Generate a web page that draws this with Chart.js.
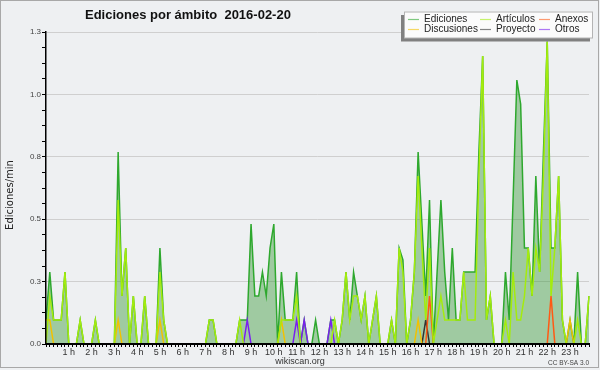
<!DOCTYPE html>
<html>
<head>
<meta charset="utf-8">
<script src="https://cdn.jsdelivr.net/npm/chart.js@4"></script>
<style>
  html, body { margin: 0; padding: 0; background: #eef0f2; }
  canvas { display: block; }
</style>
</head>
<body>
<canvas id="ambito_chart" width="600" height="370"></canvas>
<script>
// Ediciones por minuto, franjas de 10 minutos (144 por dia)
const ediciones = [
  0.1, 0.3, 0.1, 0.1, 0.1, 0.3, 0, 0, 0, 0.1, 0, 0,
  0, 0.1, 0, 0, 0, 0, 0, 0.8, 0.2, 0.4, 0, 0.2,
  0, 0, 0.2, 0, 0, 0, 0.4, 0.1, 0, 0, 0, 0,
  0, 0, 0, 0, 0, 0, 0, 0.1, 0.1, 0, 0, 0,
  0, 0, 0, 0.1, 0.1, 0.1, 0.5, 0.2, 0.2, 0.3, 0.2, 0.4,
  0.5, 0, 0.3, 0.1, 0.1, 0.1, 0.3, 0, 0.1, 0, 0, 0.1,
  0, 0, 0, 0.1, 0.1, 0, 0.1, 0.3, 0.1, 0.3, 0.2, 0.1,
  0.2, 0, 0.1, 0.2, 0, 0, 0, 0.1, 0, 0.4, 0.35, 0,
  0.1, 0.3, 0.8, 0.5, 0.2, 0.6, 0, 0.3, 0.6, 0.3, 0.1, 0.4,
  0.1, 0.1, 0.3, 0.3, 0.3, 0.3, 0.8, 1.2, 0.1, 0.2, 0, 0,
  0, 0.3, 0.1, 0.6, 1.1, 1.0, 0.4, 0.4, 0.2, 0.7, 0.3, 0.8,
  1.26, 0.4, 0.4, 0.7, 0.1, 0, 0.1, 0, 0.3, 0, 0, 0.2
];
const articulos = [
  0, 0.2, 0.1, 0.1, 0.1, 0.3, 0, 0, 0, 0.1, 0, 0,
  0, 0.1, 0, 0, 0, 0, 0, 0.6, 0.2, 0.4, 0, 0.2,
  0, 0, 0.2, 0, 0, 0, 0.3, 0.1, 0, 0, 0, 0,
  0, 0, 0, 0, 0, 0, 0, 0.1, 0.1, 0, 0, 0,
  0, 0, 0, 0.1, 0, 0, 0, 0, 0, 0, 0, 0,
  0, 0, 0.1, 0.1, 0.1, 0.1, 0.2, 0, 0, 0, 0, 0,
  0, 0, 0, 0, 0.1, 0, 0.1, 0.3, 0.1, 0.2, 0.2, 0.1,
  0.2, 0, 0.1, 0.2, 0, 0, 0, 0.1, 0, 0.4, 0.3, 0,
  0.1, 0.3, 0.7, 0.4, 0.1, 0.4, 0, 0.1, 0.2, 0.1, 0.1, 0.1,
  0.1, 0.1, 0.3, 0.1, 0.1, 0.1, 0.7, 1.2, 0.1, 0.2, 0, 0,
  0, 0.1, 0, 0.3, 0.1, 0.1, 0.2, 0.4, 0.2, 0.4, 0.3, 0.7,
  1.26, 0.2, 0.4, 0.7, 0.1, 0, 0, 0, 0.1, 0, 0, 0.2
];
const anexos = [
  0, 0, 0, 0, 0, 0, 0, 0, 0, 0, 0, 0,
  0, 0, 0, 0, 0, 0, 0, 0, 0, 0, 0, 0,
  0, 0, 0, 0, 0, 0, 0, 0, 0, 0, 0, 0,
  0, 0, 0, 0, 0, 0, 0, 0, 0, 0, 0, 0,
  0, 0, 0, 0, 0, 0, 0, 0, 0, 0, 0, 0,
  0, 0, 0, 0, 0, 0, 0, 0, 0, 0, 0, 0,
  0, 0, 0, 0, 0, 0, 0, 0, 0, 0, 0, 0,
  0, 0, 0, 0, 0, 0, 0, 0, 0, 0, 0, 0,
  0, 0, 0, 0, 0, 0.2, 0, 0, 0, 0, 0, 0,
  0, 0, 0, 0, 0, 0, 0, 0, 0, 0, 0, 0,
  0, 0, 0, 0, 0, 0, 0, 0, 0, 0, 0, 0,
  0, 0.2, 0, 0, 0, 0, 0, 0, 0, 0, 0, 0
];
const discusiones = [
  0.1, 0.1, 0, 0, 0, 0, 0, 0, 0, 0, 0, 0,
  0, 0, 0, 0, 0, 0, 0, 0.1, 0, 0, 0, 0,
  0, 0, 0, 0, 0, 0, 0.1, 0, 0, 0, 0, 0,
  0, 0, 0, 0, 0, 0, 0, 0, 0, 0, 0, 0,
  0, 0, 0, 0, 0, 0, 0, 0, 0, 0, 0, 0,
  0, 0, 0.1, 0, 0, 0, 0, 0, 0, 0, 0, 0,
  0, 0, 0, 0, 0, 0, 0, 0, 0, 0, 0, 0,
  0, 0, 0, 0, 0, 0, 0, 0, 0, 0, 0, 0,
  0, 0, 0.1, 0, 0, 0, 0, 0, 0, 0, 0, 0,
  0, 0, 0, 0, 0, 0, 0, 0, 0, 0, 0, 0,
  0, 0, 0, 0, 0, 0, 0, 0, 0, 0, 0, 0,
  0, 0, 0, 0, 0, 0, 0.1, 0, 0, 0, 0, 0
];
const proyecto = [
  0, 0, 0, 0, 0, 0, 0, 0, 0, 0, 0, 0,
  0, 0, 0, 0, 0, 0, 0, 0, 0, 0, 0, 0,
  0, 0, 0, 0, 0, 0, 0, 0, 0, 0, 0, 0,
  0, 0, 0, 0, 0, 0, 0, 0, 0, 0, 0, 0,
  0, 0, 0, 0, 0, 0, 0, 0, 0, 0, 0, 0,
  0, 0, 0, 0, 0, 0, 0, 0, 0, 0, 0, 0,
  0, 0, 0, 0, 0, 0, 0, 0, 0, 0, 0, 0,
  0, 0, 0, 0, 0, 0, 0, 0, 0, 0, 0, 0,
  0, 0, 0, 0, 0.1, 0, 0, 0, 0, 0, 0, 0,
  0, 0, 0, 0, 0, 0, 0, 0, 0, 0, 0, 0,
  0, 0, 0, 0, 0, 0, 0, 0, 0, 0, 0, 0,
  0, 0, 0, 0, 0, 0, 0, 0, 0, 0, 0, 0
];
const otros = [
  0, 0, 0, 0, 0, 0, 0, 0, 0, 0, 0, 0,
  0, 0, 0, 0, 0, 0, 0, 0, 0, 0, 0, 0,
  0, 0, 0, 0, 0, 0, 0, 0, 0, 0, 0, 0,
  0, 0, 0, 0, 0, 0, 0, 0, 0, 0, 0, 0,
  0, 0, 0, 0, 0, 0.1, 0, 0, 0, 0, 0, 0,
  0, 0, 0, 0, 0, 0, 0.1, 0, 0.1, 0, 0, 0,
  0, 0, 0, 0.1, 0, 0, 0, 0, 0, 0, 0, 0,
  0, 0, 0, 0, 0, 0, 0, 0, 0, 0, 0, 0,
  0, 0, 0, 0, 0, 0, 0, 0, 0, 0, 0, 0,
  0, 0, 0, 0, 0, 0, 0, 0, 0, 0, 0, 0,
  0, 0, 0, 0, 0, 0, 0, 0, 0, 0, 0, 0,
  0, 0, 0, 0, 0, 0, 0, 0, 0, 0, 0, 0
];

const horas = ['1 h', '2 h', '3 h', '4 h', '5 h', '6 h', '7 h', '8 h', '9 h', '10 h', '11 h', '12 h',
  '13 h', '14 h', '15 h', '16 h', '17 h', '18 h', '19 h', '20 h', '21 h', '22 h', '23 h'];
const yMax = 1.3;
const titulo = 'Ediciones por ámbito  2016-02-20';

// etiquetas de las franjas: 00:00, 00:10, ...
const franjas = ediciones.map((v, i) =>
  String(Math.floor(i / 6)).padStart(2, '0') + ':' + (i % 6) + '0');

const colores = {
  'Ediciones': '#2ea82e',
  'Artículos': '#a4ec0c',
  'Anexos': '#ff5a14',
  'Discusiones': '#f2c100',
  'Proyecto': '#333333',
  'Otros': '#7a1ff0'
};

function serie(label, data, extra) {
  return Object.assign({
    label: label,
    data: data,
    borderColor: colores[label],
    borderWidth: 1.5,
    pointRadius: 0,
    tension: 0,
    fill: false
  }, extra || {});
}

// titulo, leyenda, textos y marco
const decor = {
  id: 'decor',
  beforeDraw(chart) {
    const c = chart.ctx;
    c.save();
    c.fillStyle = '#eef0f2';
    c.fillRect(0, 0, chart.width, chart.height);
    c.strokeStyle = '#a8a8a8';
    c.lineWidth = 1;
    c.strokeRect(0.5, 0.5, 598, 367);
    c.restore();
  },
  afterDraw(chart) {
    const c = chart.ctx;
    c.save();
    c.fillStyle = '#111';
    c.font = 'bold 13px "Liberation Sans"';
    c.textAlign = 'left';
    c.textBaseline = 'middle';
    c.fillText(titulo, 85, 15);

    // eje y
    c.save();
    c.translate(10, 195);
    c.rotate(-Math.PI / 2);
    c.textAlign = 'center';
    c.font = '10px "DejaVu Sans"';
    c.fillStyle = '#222';
    c.fillText('Ediciones/min', 0, 0);
    c.restore();

    c.textAlign = 'center';
    c.font = '9px "Liberation Sans"';
    c.fillStyle = '#333';
    c.fillText('wikiscan.org', 300, 362);
    c.textAlign = 'right';
    c.font = '6.5px "Liberation Sans"';
    c.fillStyle = '#444';
    c.fillText('CC BY-SA 3.0', 589, 363);

    // leyenda
    c.fillStyle = '#808080';
    c.fillRect(401, 15, 189, 26.5);
    c.fillStyle = '#fbfbfb';
    c.fillRect(404, 11.5, 189, 26.5);
    c.strokeStyle = '#b4b4b4';
    c.strokeRect(404.5, 12, 188, 26);
    const orden = ['Ediciones', 'Artículos', 'Anexos', 'Discusiones', 'Proyecto', 'Otros'];
    const colX = [408, 480, 539];
    const rowY = [19.5, 29.5];
    c.font = '10px "Liberation Sans"';
    c.textAlign = 'left';
    orden.forEach((lab, k) => {
      const ds = chart.data.datasets.find(d => d.label === lab);
      const x = colX[k % 3], y = rowY[Math.floor(k / 3)];
      c.globalAlpha = 0.6;
      c.strokeStyle = ds.borderColor;
      c.lineWidth = 1.2;
      c.beginPath();
      c.moveTo(x, y);
      c.lineTo(x + 11, y);
      c.stroke();
      c.globalAlpha = 1;
      c.fillStyle = '#222';
      c.fillText(ds.label, x + 16, y);
    });
    c.restore();
  }
};

const ctx = document.getElementById('ambito_chart').getContext('2d');
const ambitoChart = new Chart(ctx, {
  type: 'line',
  data: {
    labels: franjas,
    datasets: [
      serie('Ediciones', ediciones, {
        fill: 'origin',
        backgroundColor: 'rgba(50,150,50,0.42)',
        order: 10
      }),
      serie('Artículos', articulos),
      serie('Anexos', anexos),
      serie('Discusiones', discusiones),
      serie('Proyecto', proyecto),
      serie('Otros', otros)
    ]
  },
  options: {
    responsive: false,
    animation: false,
    devicePixelRatio: 1,
    layout: { padding: { top: 32, right: 11, bottom: 0, left: 0 } },
    plugins: {
      legend: { display: false },
      title: { display: false },
      tooltip: { enabled: false }
    },
    scales: {
      x: {
        type: 'category',
        offset: false,
        afterFit(scale) { scale.height = 26; },
        grid: {
          display: true,
          drawOnChartArea: false,
          drawTicks: true,
          tickLength: 3,
          tickColor: '#000',
          tickWidth: 1
        },
        border: { display: true, color: '#000', width: 2, z: 1 },
        ticks: {
          autoSkip: false,
          maxRotation: 0,
          minRotation: 0,
          padding: 0,
          color: '#333',
          font: { family: 'Liberation Sans', size: 9 },
          callback: (value, index) => (index % 6 === 0 && index > 0) ? horas[index / 6 - 1] : ''
        }
      },
      y: {
        min: 0,
        max: yMax,
        afterFit(scale) { scale.width = 46; },
        afterBuildTicks(scale) {
          const t = [];
          for (let k = 0; k <= 20; k++) t.push({ value: yMax * k / 20 });
          scale.ticks = t;
        },
        grid: {
          color: (c) => (c.index % 4 === 0 ? '#cfcfcf' : 'rgba(0,0,0,0)'),
          tickColor: '#000',
          tickLength: 4,
          lineWidth: 1
        },
        border: { display: true, color: '#000', width: 1.5, z: 1 },
        ticks: {
          autoSkip: false,
          padding: 1,
          color: '#444',
          font: { family: 'Liberation Sans', size: 8 },
          callback: (value, index) => (index % 4 === 0 ? Number(value).toFixed(1) : '')
        }
      }
    }
  },
  plugins: [decor]
});
</script>
</body>
</html>
